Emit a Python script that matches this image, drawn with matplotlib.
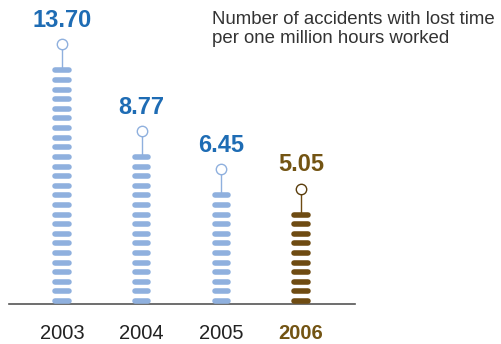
import math

import matplotlib
matplotlib.use('Agg')
import matplotlib.pyplot as plt

plt.rcParams['font.family'] = ['Liberation Sans', 'DejaVu Sans']

years = ['2003', '2004', '2005', '2006']
rates = [13.70, 8.77, 6.45, 5.05]
title_lines = ['Number of accidents with lost time',
               'per one million hours worked']

BLUE_BAR = '#8FB0DE'
BLUE_TXT = '#1E6CB4'
BROWN_BAR = '#6E4B12'
BROWN_TXT = '#735413'

STRIPES_PER_UNIT = 1.8
step = 1.0 / STRIPES_PER_UNIT
first = 0.17         # centre of the lowest stripe above the axis
stem = 1.5           # stem length above the top stripe
half_w = 0.085       # half length of a stripe (round caps add the rest)

fig = plt.figure(figsize=(5.01, 3.44), dpi=100)
ax = fig.add_axes([0, 0, 1, 1])
ax.set_xlim(-0.778, 5.508)
ax.set_ylim(-2.31, 17.57)
ax.axis('off')

for i, (yr, v) in enumerate(zip(years, rates)):
    last = i == len(years) - 1
    bar_c = BROWN_BAR if last else BLUE_BAR
    txt_c = BROWN_TXT if last else BLUE_TXT

    n = math.ceil(v * STRIPES_PER_UNIT)
    ys = [first + k * step for k in range(n)]
    lc = ax.hlines(ys, i - half_w, i + half_w, colors=bar_c, linewidth=4.0)
    lc.set_capstyle('round')

    top = ys[-1]
    tip = top + stem
    ax.plot([i, i], [top, tip], color=bar_c, lw=1.0, zorder=2)
    ax.plot(i, tip, 'o', ms=7.5, mfc='white', mec='#5a3d0c' if last else bar_c,
            mew=1.0, zorder=3)
    ax.text(i, tip + 1.0, f'{v:.2f}', ha='center', va='baseline',
            fontsize=17, fontweight='bold', color=txt_c)

    ax.text(i, -2.02, yr, ha='center', va='baseline', fontsize=14.5,
            color=BROWN_TXT if last else '#222222',
            fontweight='bold' if last else 'normal')

ax.plot([-0.665, 3.677], [0, 0], color='#555555', lw=1.2, zorder=1)

for j, line in enumerate(title_lines):
    fig.text(212 / 501, 1 - (23.9 + 19.2 * j) / 344, line, ha='left',
             va='baseline', fontsize=13.4, color='#333333')

fig.savefig('out.png', dpi=100)
